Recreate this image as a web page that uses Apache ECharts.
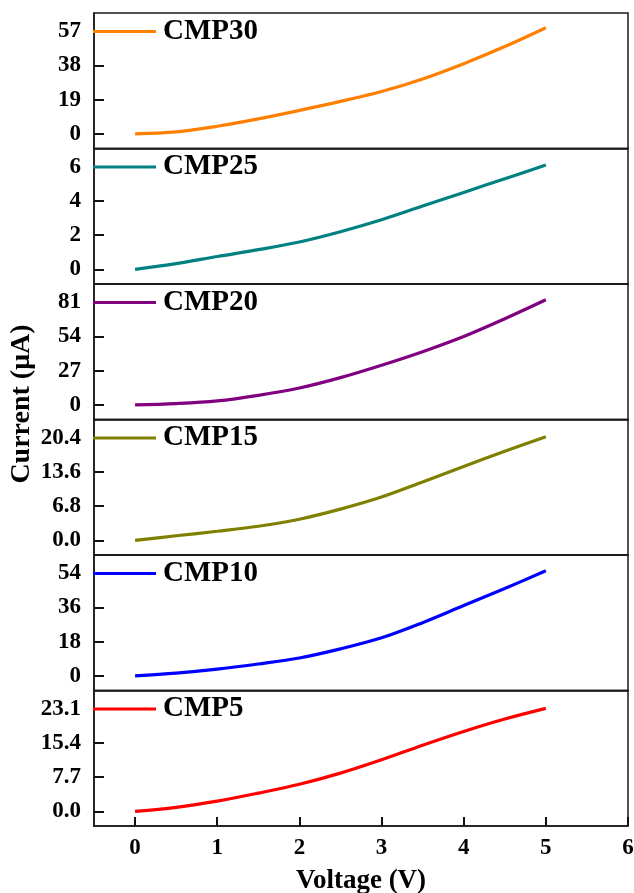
<!DOCTYPE html>
<html>
<head>
<meta charset="utf-8">
<script src="https://cdn.jsdelivr.net/npm/echarts@6/dist/echarts.min.js"></script>
<style>html,body{margin:0;padding:0;background:#fff;}#c{width:634px;height:893px;}</style>
</head>
<body>
<div id="c"></div>
<script>
const voltage = [0, 0.5, 1, 1.5, 2, 2.5, 3, 3.5, 4, 4.5, 5];
const cmp30 = [0, 1.1, 4.2, 8.3, 13, 18, 23.5, 30.5, 39, 48.5, 59];
const cmp25 = [0, 0.33, 0.75, 1.15, 1.6, 2.2, 2.9, 3.7, 4.5, 5.3, 6.1];
const cmp20 = [0, 1.0, 3.1, 7.5, 13.3, 21.5, 31.3, 42, 54, 68, 83];
const cmp15 = [0, 0.9, 1.8, 2.8, 4.2, 6.2, 8.6, 11.6, 14.7, 17.7, 20.6];
const cmp10 = [0, 1.4, 3.5, 6.2, 9.4, 14.2, 20, 28, 37, 46, 55.3];
const cmp5  = [0, 0.9, 2.3, 4.1, 6.1, 8.6, 11.6, 14.9, 18.0, 20.8, 23.2];

const seriesNames = ['CMP30', 'CMP25', 'CMP20', 'CMP15', 'CMP10', 'CMP5'];
const seriesValues = [cmp30, cmp25, cmp20, cmp15, cmp10, cmp5];
const seriesColors = ['#FF8000', '#008080', '#800080', '#808000', '#0000FF', '#FF0000'];

const yTicks = [
  [0, 19, 38, 57],
  [0, 2, 4, 6],
  [0, 27, 54, 81],
  [0, 6.8, 13.6, 20.4],
  [0, 18, 36, 54],
  [0, 7.7, 15.4, 23.1]
];
const yDecimals = [0, 0, 0, 1, 0, 1];
const xTicks = [0, 1, 2, 3, 4, 5, 6];

const FONT = '"Liberation Serif", "Times New Roman", serif';
const chart = echarts.init(document.getElementById('c'));

const gridTop0 = 13, gridH = 135.5, gridLeft = 94, gridRight = 6;
const n = seriesNames.length;
const grids = [], xAxes = [], yAxes = [], series = [], legends = [];
const axisLineStyle = { color: '#1a1a1a', width: 1.5 };
const tickStyle = { color: '#111', width: 2 };

for (let i = 0; i < n; i++) {
  const top = gridTop0 + i * gridH;
  const last = i === n - 1;
  grids.push({
    left: gridLeft, right: gridRight, top: top, height: gridH,
    containLabel: false, outerBoundsMode: 'none',
    show: true, borderColor: '#1a1a1a', borderWidth: 1.5, backgroundColor: 'transparent'
  });
  xAxes.push({
    type: 'value', gridIndex: i, min: -0.5, max: 6, position: 'bottom',
    axisLine: { show: true, onZero: false, lineStyle: axisLineStyle },
    splitLine: { show: false },
    axisTick: { show: last, inside: true, length: 9, customValues: xTicks,
      lineStyle: tickStyle },
    axisLabel: { show: last, customValues: xTicks, margin: 11,
      color: '#000', fontFamily: FONT, fontWeight: 'bold', fontSize: 23 },
    name: last ? 'Voltage (V)' : '',
    nameLocation: 'middle', nameGap: 42,
    nameTextStyle: { color: '#000', fontFamily: FONT, fontWeight: 'bold', fontSize: 27 }
  });
  const step = yTicks[i][1];
  const dec = yDecimals[i];
  yAxes.push({
    type: 'value', gridIndex: i, position: 'left',
    min: -0.43 * step, max: 3.535 * step,
    axisLine: { show: true, onZero: false, lineStyle: axisLineStyle },
    splitLine: { show: false },
    axisTick: { show: true, inside: true, length: 10, customValues: yTicks[i],
      lineStyle: tickStyle },
    axisLabel: { customValues: yTicks[i], margin: 13,
      formatter: v => Number(v).toFixed(dec),
      color: '#000', fontFamily: FONT, fontWeight: 'bold', fontSize: 23 }
  });
  series.push({
    type: 'line', name: seriesNames[i], xAxisIndex: i, yAxisIndex: i,
    data: voltage.map((v, k) => [v, seriesValues[i][k]]),
    smooth: 0.35, showSymbol: false, symbol: 'none',
    lineStyle: { color: seriesColors[i], width: 3.2 },
    itemStyle: { color: seriesColors[i] },
    z: 3
  });
  legends.push({
    data: [seriesNames[i]], left: 93, top: top + 4, padding: 0,
    icon: 'rect', itemWidth: 63, itemHeight: 3, itemGap: 0,
    selectedMode: false,
    textStyle: { color: '#000', fontFamily: FONT, fontWeight: 'bold', fontSize: 29, lineHeight: 28, padding: [0, 0, 0, 2] }
  });
}

chart.setOption({
  animation: false,
  backgroundColor: '#fff',
  grid: grids, xAxis: xAxes, yAxis: yAxes, series: series, legend: legends,
  graphic: [{
    type: 'text', x: 22, y: 404, rotation: Math.PI / 2,
    style: { text: 'Current (μA)', fill: '#000', font: 'bold 28px ' + FONT,
      textAlign: 'center', textVerticalAlign: 'middle' }
  }]
});
</script>
</body>
</html>
